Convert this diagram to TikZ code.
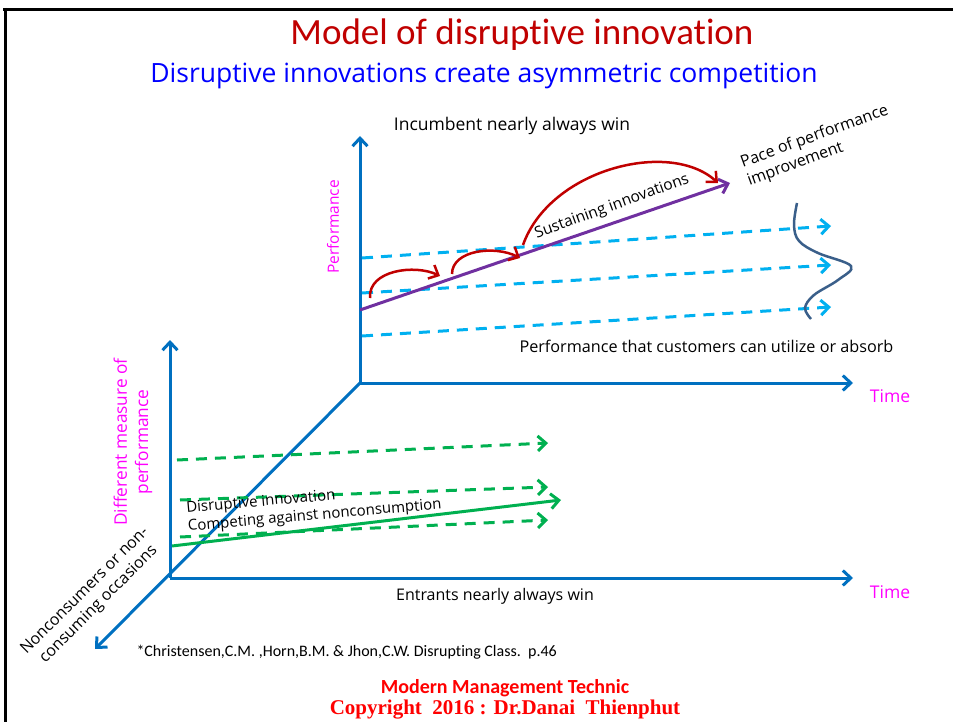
\documentclass[tikz,border=0pt]{standalone}
\usepackage{fontspec}
\setmainfont{Open Sans}
\newfontfamily\calibri[Ligatures=NoCommon]{Carlito}
\newfontfamily\timesfont{Liberation Serif}
\usepackage{tikz}
\usetikzlibrary{arrows,arrows.meta,positioning,calc,shapes}
\tikzset{>={Straight Barb[length=8pt,width=15pt]}}

\definecolor{axisblue}{HTML}{0070C0}
\definecolor{needblue}{HTML}{00B0F0}
\definecolor{pacepurple}{HTML}{7030A0}
\definecolor{sustred}{HTML}{C00000}
\definecolor{disgreen}{HTML}{00B050}
\definecolor{wavecol}{HTML}{3A5F8A}
\definecolor{labmag}{HTML}{FF00FF}

\newcommand{\fsz}[1]{\fontsize{#1}{1.22\dimexpr#1pt\relax}\selectfont}

\tikzset{
  lab/.style={align=center,inner sep=0pt,font=\fsz{16}},
  maglab/.style={lab,text=labmag},
  dashline/.style={line width=3pt,dash pattern=on 11pt off 8pt,->},
}

\begin{document}
\begin{tikzpicture}[x=1pt,y=-1pt,line width=3pt]
\useasboundingbox (0,0) rectangle (953,722);

% frame
\draw[line width=3pt] (3,9.5) -- (953,9.5);
\draw[line width=3pt] (5,8) -- (5,722);

% titles
\node [font=\calibri\fsz{37},text=sustred] (title) at (522,35) {Model of disruptive innovation};
\node [font=\fsz{26.5},text=blue] (sub) at (484,76) {Disruptive innovations create asymmetric competition};

% axes
\coordinate (o1) at (360,383);
\coordinate (o2) at (170,578);
\coordinate (p1) at (360,136);
\coordinate (t1) at (853,383);
\coordinate (p2) at (170,340);
\coordinate (t2) at (853,578);
\coordinate (nc) at (95,649);

\begin{scope}[axisblue,line width=3pt]
\draw[->] (o1) to (p1);
\draw[->] (o1) to (t1);
\draw[->] (o2) to (p2);
\draw[->] (o2) to (t2);
\draw[->] (o1) to (nc);
\end{scope}

% what customers can absorb
\coordinate (n1s) at (362,258);
\coordinate (n1e) at (831,226);
\coordinate (n2s) at (362,293);
\coordinate (n2e) at (831,265);
\coordinate (n3s) at (362,336);
\coordinate (n3e) at (831,307);

\begin{scope}[needblue]
\draw[dashline] (n1s) to (n1e);
\draw[dashline] (n2s) to (n2e);
\draw[dashline] (n3s) to (n3e);
\end{scope}

% pace of improvement
\coordinate (ps) at (360,310);
\coordinate (pe) at (730,183);
\draw[->,pacepurple,line width=3pt] (ps) to (pe);

% sustaining jumps
\coordinate (r1s) at (370,298);
\coordinate (r1e) at (440,276);
\coordinate (r2s) at (452,274);
\coordinate (r2e) at (520,258);
\coordinate (r3s) at (523,245);
\coordinate (r3e) at (718,183);

\begin{scope}[sustred,line width=2.5pt]
\draw[->] (r1s) .. controls +(-2,-28) and +(-25,-12) .. (r1e);
\draw[->] (r2s) .. controls +(0,-24) and +(-25,-13) .. (r2e);
\draw[->] (r3s) .. controls +(27,-76) and +(-48,-44) .. (r3e);
\end{scope}

% spread of customer needs
\draw[wavecol,line width=2.5pt] plot[smooth,tension=0.6] coordinates
  {(797,203) (794,225) (799,241) (818,253) (851,266) (838,280) (814,295) (805,308) (811,319)};

% disruptive side
\coordinate (g1s) at (177,460);
\coordinate (g1e) at (548,443);
\coordinate (g2s) at (180,500);
\coordinate (g2e) at (548,487);
\coordinate (g3s) at (180,537);
\coordinate (g3e) at (548,520);
\coordinate (gs) at (172,546);
\coordinate (ge) at (561,500);

\begin{scope}[disgreen]
\draw[dashline] (g1s) to (g1e);
\draw[dashline] (g2s) to (g2e);
\draw[dashline] (g3s) to (g3e);
\draw[->,line width=3pt] (gs) to (ge);
\end{scope}

% labels
\node[lab,font=\fsz{17.5}] (inc) at (512,126) {Incumbent nearly always win};
\node[lab] (ent) at (495,596) {Entrants nearly always win};
\node[lab,font=\fsz{16.2},anchor=west] (absorb) at (518,346) {Performance that customers can utilize or absorb};
\node[lab,font=\fsz{15.5},rotate=20] (sust) at (612,207) {Sustaining innovations};
\node[lab,rotate=20,align=left] (pace) at (818,146) {Pace of performance\\improvement};
\node[maglab,font=\fsz{15.5},rotate=90] (perf) at (333,227) {Performance};
\node[maglab,font=\fsz{17.3},rotate=90] (diff) at (133,442) {Different measure of\\performance};
\node[lab,rotate=45] (noncons) at (92,598) {Nonconsumers or non-\\consuming occasions};
\node[maglab,font=\fsz{17.5}] (time1) at (890,396) {Time};
\node[maglab,font=\fsz{17.5}] (time2) at (890,592) {Time};
\node[lab,font=\fsz{15},rotate=5,align=left] (disr) at (314,507) {Disruptive innovation\\Competing against nonconsumption};

\node[font=\calibri\fsz{16},anchor=west,inner sep=0pt] (cite) at (135,652) {*Christensen,C.M. ,Horn,B.M. \& Jhon,C.W. Disrupting Class.~~p.46};
\node[font=\calibri\bfseries\fsz{20},text=red] (mmt) at (505,688) {Modern Management Technic};
\node[font=\timesfont\bfseries\fsz{21},text=red] (copy) at (505,710) {Copyright~~2016 : Dr.Danai~~Thienphut};

\end{tikzpicture}
\end{document}
